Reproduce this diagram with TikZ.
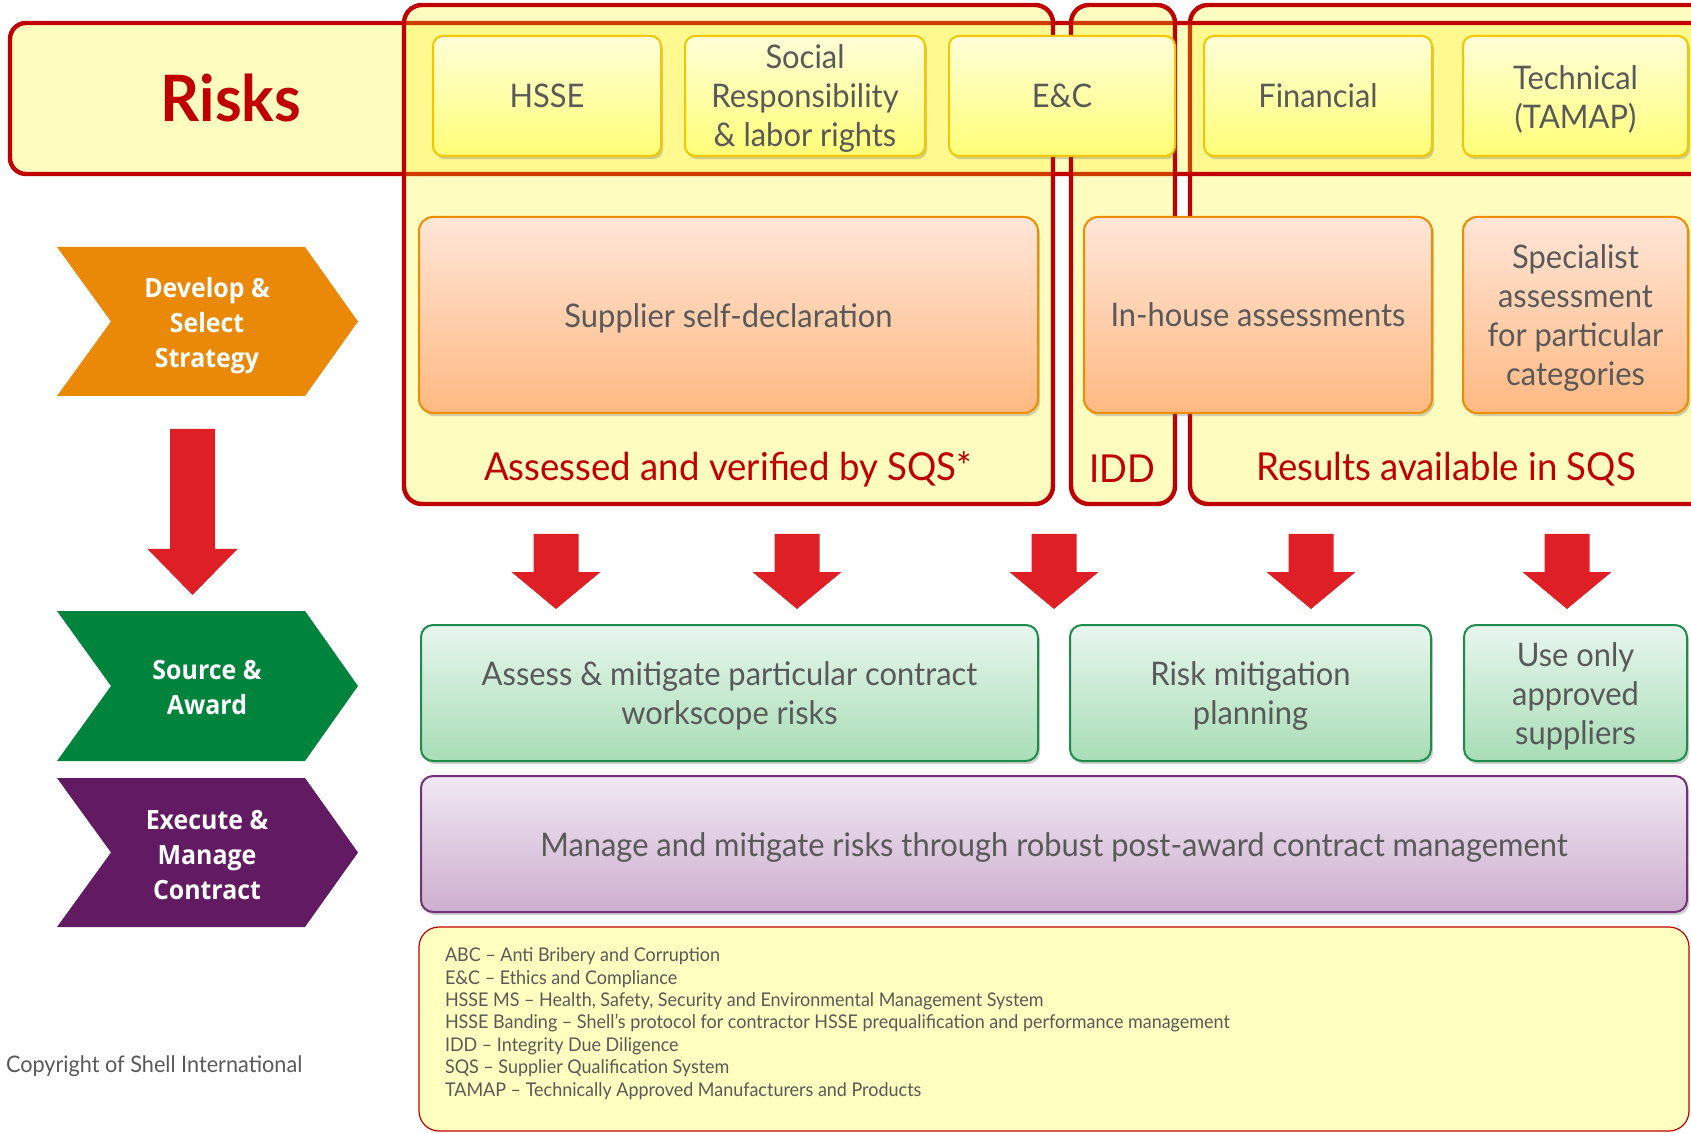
\documentclass[tikz,border=0pt]{standalone}
\usepackage{fontspec}
\setmainfont{Lato}[FakeStretch=0.95]
\newfontfamily\chevfont{Open Sans}[FakeStretch=0.94]
\usetikzlibrary{shadows}
\definecolor{riskred}{HTML}{C00000}
\definecolor{textgray}{HTML}{595959}
\definecolor{arrowred}{HTML}{DF1F26}
\definecolor{devorange}{HTML}{EA8808}
\definecolor{srcgreen}{HTML}{00843D}
\definecolor{exepurple}{HTML}{621B62}
\definecolor{ytop}{HTML}{FFFFD8}
\definecolor{ybot}{HTML}{FFFF78}
\definecolor{ygold}{HTML}{F2C600}
\definecolor{otop}{HTML}{FFE6D8}
\definecolor{obot}{HTML}{FFB982}
\definecolor{oborder}{HTML}{F08C00}
\definecolor{gtop}{HTML}{E8F6EE}
\definecolor{gbot}{HTML}{A8DDB6}
\definecolor{gborder}{HTML}{1E8C4B}
\definecolor{ptop}{HTML}{F0E8F3}
\definecolor{pbot}{HTML}{CDAECE}
\definecolor{pborder}{HTML}{74307A}
\definecolor{legfill}{HTML}{FFFFC0}
\newcommand\mainfs{\fontsize{16.25}{19.5}\selectfont}
% box: name, style, x1, y1, x2, y2, text (text in a node of its own, lowered a little)
\newcommand\bx[7]{\node[#2, minimum width={(#5-(#3))*0.5pt}, minimum height={(#6-(#4))*0.5pt}] (#1) at ({(#3+#5)/2},{(#4+#6)/2}) {};
  \node[txt] (#1-text) at ([yshift=-1.5pt]#1.center) {#7};}
% same, text exactly centred
\newcommand\bxc[7]{\node[#2, minimum width={(#5-(#3))*0.5pt}, minimum height={(#6-(#4))*0.5pt}] (#1) at ({(#3+#5)/2},{(#4+#6)/2}) {};
  \node[txt] (#1-text) at (#1.center) {#7};}
\newcommand\redarrow[6]{\fill[arrowred] (#1-#5,#2) -- (#1+#5,#2) -- (#1+#5,#3) -- (#1+#6,#3) -- (#1,#4) -- (#1-#6,#3) -- (#1-#5,#3) -- cycle;}
\newcommand\chevron[3]{\fill[#1] (57,#2) -- (305,#2) -- (358,{(#2+#3)/2}) -- (305,#3) -- (57,#3) -- (111,{(#2+#3)/2}) -- cycle;}
\begin{document}
\begin{tikzpicture}[x=0.5pt,y=-0.5pt,
  base/.style={rectangle, inner sep=2pt, outer sep=0pt, align=center, text=textgray, font=\mainfs},
  shad/.style={drop shadow={shadow xshift=1pt, shadow yshift=-1.6pt, opacity=0.3, fill=black!60}},
  bandst/.style={base, rounded corners=8pt, draw=riskred, line width=2.2pt, fill=yellow, fill opacity=0.25},
  grp/.style={base, rounded corners=9pt, draw=riskred, line width=2.2pt, fill=yellow, fill opacity=0.25},
  ybox/.style={base, shad, rounded corners=5pt, draw=ygold, line width=1pt, top color=ytop, bottom color=ybot},
  obox/.style={base, shad, rounded corners=7pt, draw=oborder, line width=1pt, top color=otop, bottom color=obot},
  gbox/.style={base, shad, rounded corners=6pt, draw=gborder, line width=1pt, top color=gtop, bottom color=gbot},
  pbox/.style={base, shad, rounded corners=6pt, draw=pborder, line width=1pt, top color=ptop, bottom color=pbot},
  legbox/.style={base, rounded corners=10pt, draw=riskred, line width=0.6pt, fill=legfill},
  txt/.style={base, inner sep=0pt},
  grplabel/.style={txt, text=riskred, font=\fontsize{19.25}{23}\selectfont},
  chevtext/.style={txt, text=white, font=\chevfont\bfseries\fontsize{13.25}{17.5}\selectfont},
]
\useasboundingbox (0,0) rectangle (1691,1133);
\clip (0,0) rectangle (1691,1133);

% risk band and groups
\bx{grp3}{grp}{1190}{5}{1790}{504}{}
\bx{band}{bandst}{10}{23}{1790}{174}{}
\bx{grp1}{grp}{404}{5}{1053}{504}{}
\bx{grp2}{grp}{1071}{5}{1175}{504}{}
\node[txt, text=riskred, font=\bfseries\fontsize{32}{36}\selectfont] (risks) at (231,98) {Risks};

% risk categories
\bxc{hsse}{ybox}{433}{36}{661}{156}{HSSE}
\bx{social}{ybox}{685}{36}{925}{156}{Social\\Responsibility\\\& labor rights}
\bxc{ec}{ybox}{949}{36}{1175}{156}{E\&C}
\bxc{fin}{ybox}{1204}{36}{1432}{156}{Financial}
\bx{tech}{ybox}{1463}{36}{1688}{156}{Technical\\(TAMAP)}

% assessments
\bx{selfdecl}{obox}{419}{217}{1038}{413}{Supplier self-declaration}
\bxc{inhouse}{obox}{1084}{217}{1432}{413}{In-house assessments}
\bx{special}{obox}{1463}{217}{1688}{413}{Specialist\\assessment\\for particular\\categories}

% group labels
\node[grplabel] (lab1) at (728,469) {Assessed and verified by SQS*};
\node[grplabel] (lab2) at (1122,469) {IDD};
\node[grplabel] (lab3) at (1446,469) {Results available in SQS};

% arrows
\redarrow{556}{534}{572}{609}{22.5}{44.5}
\redarrow{797}{534}{572}{609}{22.5}{44.5}
\redarrow{1054}{534}{572}{609}{22.5}{44.5}
\redarrow{1311}{534}{572}{609}{22.5}{44.5}
\redarrow{1567}{534}{572}{609}{22.5}{44.5}
\redarrow{192.5}{429}{549}{595}{22.5}{45}

% chevrons
\chevron{devorange}{247}{396}
\node[chevtext] (develop) at (207,326) {Develop \&\\Select\\Strategy};
\chevron{srcgreen}{611}{761}
\node[chevtext] (source) at (207,688) {Source \&\\Award};
\chevron{exepurple}{778}{927}
\node[chevtext] (execute) at (207,855) {Execute \&\\Manage\\Contract};

% actions
\bx{assess}{gbox}{421}{625}{1038}{761}{Assess \& mitigate particular contract\\workscope risks}
\bx{riskmit}{gbox}{1070}{625}{1431}{761}{Risk mitigation\\planning}
\bx{useonly}{gbox}{1464}{625}{1687}{761}{Use only\\approved\\suppliers}
\bx{manage}{pbox}{421}{776}{1687}{912}{Manage and mitigate risks through robust post-award contract management}

% legend
\bx{legend}{legbox}{419}{927}{1689}{1131}{}
\node[txt, anchor=west, align=left, font=\fontsize{9.45}{11.2}\selectfont] (legtext) at (445,1023.5) {ABC – Anti Bribery and Corruption\\E\&C – Ethics and Compliance\\HSSE MS – Health, Safety, Security and Environmental Management System\\HSSE Banding – Shell’s protocol for contractor HSSE prequalification and performance management\\IDD – Integrity Due Diligence\\SQS – Supplier Qualification System\\TAMAP – Technically Approved Manufacturers and Products};
\node[txt, anchor=west, font=\fontsize{11.4}{13}\selectfont] (copyright) at (6,1066) {Copyright of Shell International};
\end{tikzpicture}
\end{document}
